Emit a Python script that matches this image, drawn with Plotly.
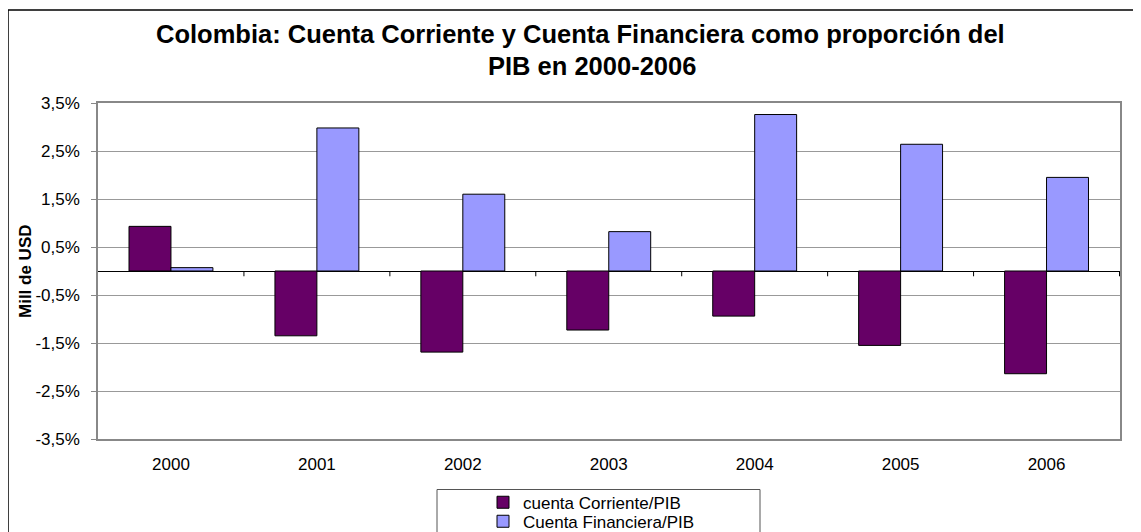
import plotly.graph_objects as go

years = ["2000", "2001", "2002", "2003", "2004", "2005", "2006"]
cuenta_corriente = [0.93, -1.35, -1.69, -1.23, -0.94, -1.55, -2.14]
cuenta_financiera = [0.07, 2.98, 1.60, 0.82, 3.26, 2.64, 1.95]
y_tickvals = [-3.5, -2.5, -1.5, -0.5, 0.5, 1.5, 2.5, 3.5]
y_ticktext = ["-3,5%", "-2,5%", "-1,5%", "-0,5%", "0,5%", "1,5%", "2,5%", "3,5%"]

FONT = "Liberation Sans, Arial, sans-serif"
OFF = 8  # page body margin
PAGE_W, PAGE_H = 1141, 532
W, H = PAGE_W - OFF, PAGE_H - OFF
L, T = 98 - OFF, 103 - OFF
R = W - (1120 - OFF)
B = H - (439 - OFF)
pw, ph = W - L - R, H - T - B


def px(x):
    return (x - OFF - L) / pw


def py(y):
    return (H - B - (y - OFF)) / ph


fig = go.Figure()
fig.add_trace(go.Bar(x=years, y=cuenta_corriente, name="cuenta Corriente/PIB", legend="legend",
                     marker=dict(color="#660066", line=dict(color="black", width=1))))
fig.add_trace(go.Bar(x=years, y=cuenta_financiera, name="Cuenta Financiera/PIB", legend="legend2",
                     marker=dict(color="#9999FF", line=dict(color="black", width=1))))

shapes = []
# tick marks on the zero line at category boundaries
for i in range(len(years)):
    shapes.append(dict(type="line", xref="x", yref="y", x0=i + 0.5, x1=i + 0.5,
                       y0=0, y1=-0.11, line=dict(color="black", width=1)))
# outer chart frame
shapes.append(dict(type="rect", xref="paper", yref="paper",
                   x0=px(8), x1=px(1160), y0=py(10), y1=py(560),
                   line=dict(color="black", width=1.5), layer="below"))
# legend box
shapes.append(dict(type="rect", xref="paper", yref="paper",
                   x0=px(437), x1=px(760), y0=py(489.5), y1=py(560),
                   line=dict(color="#555555", width=1)))

annotations = [
    dict(text="<b>Colombia: Cuenta Corriente y Cuenta Financiera como proporción del</b>",
         xref="paper", yref="paper", x=px(580), y=py(34.5), xanchor="center", yanchor="middle",
         showarrow=False, font=dict(family=FONT, size=25.5, color="black")),
    dict(text="<b>PIB en 2000-2006</b>",
         xref="paper", yref="paper", x=px(592), y=py(66), xanchor="center", yanchor="middle",
         showarrow=False, font=dict(family=FONT, size=25.5, color="black")),
    dict(text="<b>Mill de USD</b>", textangle=-90,
         xref="paper", yref="paper", x=px(25), y=py(271), xanchor="center", yanchor="middle",
         showarrow=False, font=dict(family=FONT, size=17, color="black")),
]

legend_common = dict(xanchor="left", yanchor="middle", bgcolor="rgba(0,0,0,0)", borderwidth=0,
                     font=dict(family=FONT, size=17, color="black"))

fig.update_layout(
    width=W, height=H,
    margin=dict(l=L, r=R, t=T, b=B, pad=0, autoexpand=False),
    paper_bgcolor="white", plot_bgcolor="white",
    font=dict(family=FONT, size=17, color="black"),
    barmode="group", bargap=0.425, bargroupgap=0,
    showlegend=True,
    legend=dict(x=px(483), y=py(502.7), **legend_common),
    legend2=dict(x=px(483), y=py(521.7), **legend_common),
    shapes=shapes,
    annotations=annotations,
    xaxis=dict(showgrid=False, showline=True, linecolor="#888888", linewidth=1.5, mirror=True,
               ticks="", tickfont=dict(family=FONT, size=17, color="black"),
               ticklabelstandoff=9, zeroline=False),
    yaxis=dict(range=[-3.5, 3.5], tickvals=y_tickvals, ticktext=y_ticktext,
               showgrid=True, gridcolor="#999999", gridwidth=1,
               showline=True, linecolor="#888888", linewidth=1.5, mirror=True,
               ticks="outside", ticklen=5, tickcolor="#888888",
               zeroline=True, zerolinecolor="black", zerolinewidth=1,
               tickfont=dict(family=FONT, size=17, color="black"), ticklabelstandoff=8),
)

fig.write_html("out.html")
